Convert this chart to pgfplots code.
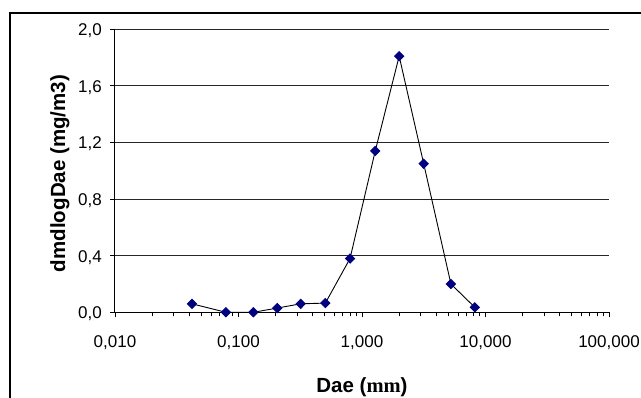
\documentclass[border=0pt]{standalone}
\usepackage{pgfplots}
\pgfplotsset{compat=1.18}
\usepackage{fontspec}
\setmainfont{Liberation Sans}
\newfontfamily\serifm{Liberation Serif}
\definecolor{navy}{HTML}{000080}
\begin{document}
\begin{tikzpicture}[x=1pt,y=1pt]
\useasboundingbox (0,0) rectangle (641,-398);
\draw[line width=1.5pt] (10,-398) -- (10,-13) -- (641,-13);
\begin{axis}[
  at={(115pt,-312.3pt)}, anchor=south west,
  scale only axis, width=494pt, height=283pt,
  xmode=log, xmin=0.01, xmax=100, ymin=0, ymax=2,
  axis x line=bottom, axis y line=left,
  axis line style={-, line width=1pt, black},
  xtick={0.01,0.1,1,10,100},
  xticklabels={{0,010},{0,100},{1,000},{10,000},{100,000}},
  minor xtick={0.02,0.03,0.04,0.05,0.06,0.07,0.08,0.09,0.2,0.3,0.4,0.5,0.6,0.7,0.8,0.9,2,3,4,5,6,7,8,9,20,30,40,50,60,70,80,90},
  ytick={0,0.4,0.8,1.2,1.6,2.0},
  yticklabels={{0,0},{0,4},{0,8},{1,2},{1,6},{2,0}},
  ymajorgrids, grid style={black!85, line width=0.9pt},
  tick align=outside, major tick length=5pt, minor tick length=4pt,
  tick style={black, line width=0.9pt},
  ticklabel style={font=\fontsize{17}{20}\selectfont},
  xticklabel style={anchor=north, inner sep=0pt, yshift=-18pt},
  yticklabel style={anchor=east, inner sep=0pt, xshift=-8pt, yshift=-1.5pt},
  clip=false,
]
\addplot[black, line width=0.9pt, mark=diamond*, mark size=4.6pt,
  mark options={fill=navy, draw=navy, solid, xscale=1.33}] coordinates {
  (0.042,0.06) (0.079,0.0) (0.132,0.0) (0.206,0.03) (0.319,0.06)
  (0.505,0.065) (0.80,0.38) (1.28,1.14) (2.0,1.81) (3.16,1.05)
  (5.25,0.20) (8.2,0.035)
};
\end{axis}
\node[anchor=base, font=\bfseries\fontsize{20.5}{24}\selectfont] at (362,-393) {Dae ({\serifm\bfseries mm})};
\node[rotate=90, anchor=base, font=\bfseries\fontsize{20.5}{24}\selectfont] at (65,-173.5) {dmdlogDae (mg/m3)};
\end{tikzpicture}
\end{document}
